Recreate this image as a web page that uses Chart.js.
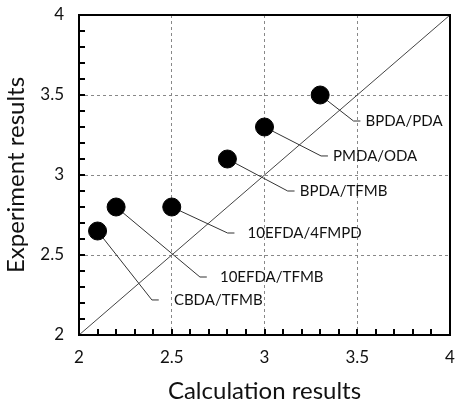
<!DOCTYPE html>
<html>
<head>
<meta charset="utf-8">
<script src="https://cdn.jsdelivr.net/npm/chart.js@4"></script>
<style>
  html, body { margin: 0; padding: 0; background: #fff; }
  #wrap { width: 460px; height: 403px; }
</style>
</head>
<body>
<div id="wrap"><canvas id="chart"></canvas></div>
<script>
// values
const names = ["CBDA/TFMB", "10EFDA/TFMB", "10EFDA/4FMPD", "BPDA/TFMB", "PMDA/ODA", "BPDA/PDA"];
const calc = [2.1, 2.2, 2.5, 2.8, 3.0, 3.3];
const expt = [2.65, 2.8, 2.8, 3.1, 3.3, 3.5];
// where each leader line bends (data units)
const elbowX = [2.393, 2.652, 2.801, 3.125, 3.305, 3.48];
const elbowY = [2.219, 2.3625, 2.6375, 2.90, 3.119, 3.3375];
const axisTicks = [2, 2.5, 3, 3.5, 4];
const minorTicks = [2.1, 2.2, 2.3, 2.4, 2.6, 2.7, 2.8, 2.9, 3.1, 3.2, 3.3, 3.4, 3.6, 3.7, 3.8, 3.9];

const FONT = "Lato, 'Open Sans', sans-serif";
const labelGap = [22, 20, 20, 12, 12, 12]; // px from elbow to text

// leader lines: point -> elbow -> short horizontal stub
const leaders = names.map((n, i) => ({
  type: "line",
  data: [
    { x: calc[i], y: expt[i] },
    { x: elbowX[i], y: elbowY[i] },
    { x: elbowX[i] + 0.037, y: elbowY[i] }
  ],
  borderColor: "#333",
  borderWidth: 1,
  pointRadius: 0,
  fill: false,
  tension: 0,
  order: 3
}));

// frame, minor ticks and the point labels
const extras = {
  id: "extras",
  afterDraw(chart) {
    const { ctx, chartArea: a, scales: { x, y } } = chart;
    ctx.save();
    ctx.setLineDash([]);
    ctx.fillStyle = "#000";
    [...minorTicks, 2.5, 3, 3.5].forEach(v => {
      const px = Math.round(x.getPixelForValue(v));
      const py = Math.round(y.getPixelForValue(v));
      ctx.fillRect(px - 1, a.bottom - 6, 2, 6);
      ctx.fillRect(a.left, py - 1, 6, 2);
    });
    ctx.strokeStyle = "#000";
    ctx.lineWidth = 2;
    ctx.strokeRect(a.left, a.top, a.right - a.left, a.bottom - a.top);

    ctx.fillStyle = "#111";
    ctx.font = "15px " + FONT;
    ctx.textBaseline = "middle";
    ctx.textAlign = "left";
    names.forEach((n, i) => {
      const px = x.getPixelForValue(elbowX[i]) + labelGap[i];
      const py = y.getPixelForValue(elbowY[i]);
      ctx.fillText(n, px, py);
    });
    ctx.restore();
  }
};

function noPad(s) {
  s.paddingLeft = 0; s.paddingRight = 0; s.paddingTop = 0; s.paddingBottom = 0;
}

new Chart(document.getElementById("chart"), {
  type: "scatter",
  data: {
    datasets: [
      {
        data: calc.map((v, i) => ({ x: v, y: expt[i] })),
        backgroundColor: "#000",
        borderColor: "#000",
        pointRadius: 9,
        pointHoverRadius: 9,
        order: 1
      },
      {
        type: "line",
        data: [{ x: 2, y: 2 }, { x: 4, y: 4 }],
        borderColor: "#444",
        borderWidth: 1,
        pointRadius: 0,
        order: 4
      },
      ...leaders
    ]
  },
  options: {
    responsive: true,
    maintainAspectRatio: false,
    animation: false,
    events: [],
    layout: { padding: { top: 15, right: 4, left: 0, bottom: 0 } },
    plugins: { legend: { display: false }, tooltip: { enabled: false } },
    scales: {
      x: {
        type: "linear",
        min: 2, max: 4,
        afterBuildTicks: s => { s.ticks = axisTicks.map(v => ({ value: v })); },
        afterFit: s => { s.height = 68; noPad(s); },
        ticks: { padding: 12, color: "#111", font: { family: FONT, size: 17 }, callback: v => String(v) },
        grid: {
          drawTicks: false,
          color: c => (c.tick && (c.tick.value === 2 || c.tick.value === 4)) ? "rgba(0,0,0,0)" : "#888"
        },
        border: { display: false, dash: [3, 3] },
        title: { display: true, text: "Calculation results", color: "#111", font: { family: FONT, size: 24, lineHeight: 1 }, padding: { top: 0, bottom: 0 } }
      },
      y: {
        type: "linear",
        min: 2, max: 4,
        afterBuildTicks: s => { s.ticks = axisTicks.map(v => ({ value: v })); },
        afterFit: s => { s.width = 79; noPad(s); },
        ticks: { padding: 15, color: "#111", font: { family: FONT, size: 17 }, callback: v => String(v) },
        grid: {
          drawTicks: false,
          color: c => (c.tick && (c.tick.value === 2 || c.tick.value === 4)) ? "rgba(0,0,0,0)" : "#888"
        },
        border: { display: false, dash: [3, 3] },
        title: { display: true, text: "Experiment results", color: "#111", font: { family: FONT, size: 24 }, padding: { top: 2, bottom: 0 } }
      }
    }
  },
  plugins: [extras]
});
</script>
</body>
</html>
